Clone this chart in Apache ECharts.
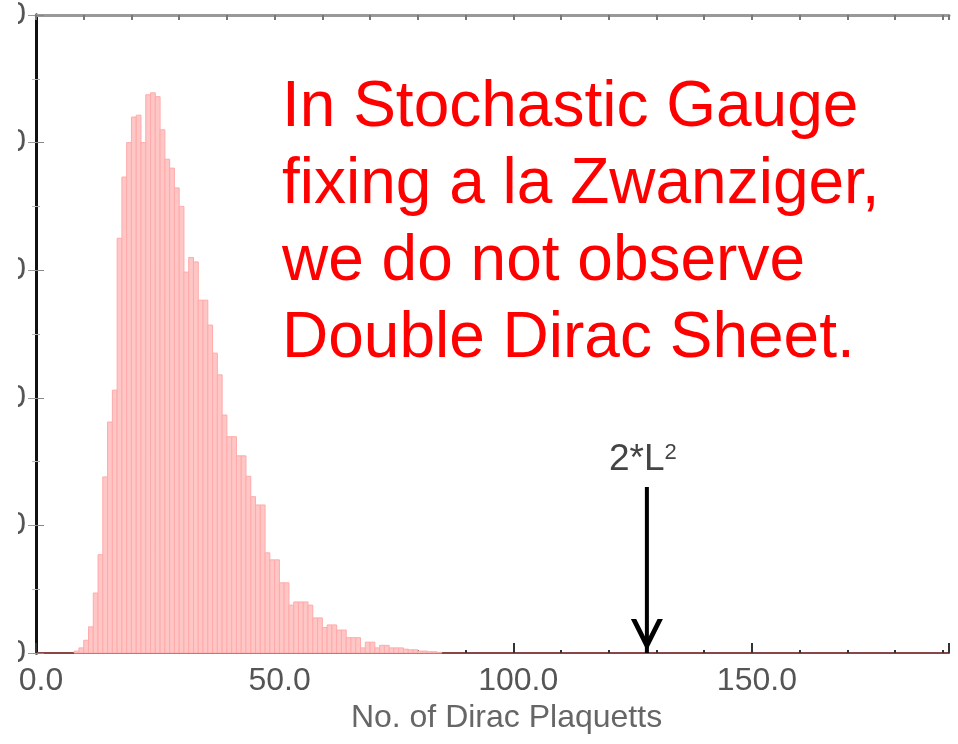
<!DOCTYPE html>
<html>
<head>
<meta charset="utf-8">
<style>
  html, body { margin: 0; padding: 0; background: #ffffff; }
  #chart { width: 958px; height: 744px; }
</style>
<script src="https://cdn.jsdelivr.net/npm/echarts@6/dist/echarts.min.js"></script>
</head>
<body>
<div id="chart"></div>
<script>
// Histogram of the number of Dirac plaquettes per configuration (unit-width bins)
const BIN_START = 8;
const BIN_WIDTH = 1;
const COUNTS = [
  3, 8, 20, 41, 94, 154, 276, 362, 412, 650,
  746, 800, 840, 843, 800, 875, 878, 872, 820, 774,
  760, 729, 700, 597, 620, 613, 553, 553, 514, 470,
  436, 373, 339, 339, 309, 309, 277, 245, 232, 232,
  157, 146, 146, 110, 110, 75, 80, 80, 80, 75,
  55, 55, 40, 44, 44, 36, 36, 24, 24, 24,
  8, 17, 17, 8, 12, 12, 8, 8, 8, 6,
  5, 5, 3, 3, 2, 2, 1
];

// Axis ranges
const X_MIN = 0;
const X_MAX = 191.3;
const X_TICK_STEP = 10;
const X_LABEL_STEP = 50;
const Y_MIN = 0;
const Y_MAX = 1000;
const Y_STEP = 200;

// Arrow marking 2*L^2 for L = 8
const L_SIZE = 8;
const ARROW_X = 2 * L_SIZE * L_SIZE;
const ARROW_TOP = 260;

const NOTE_LINES = [
  'In Stochastic Gauge',
  'fixing a la Zwanziger,',
  'we do not observe',
  'Double Dirac Sheet.'
];
const X_NAME = 'No. of Dirac Plaquetts';

const FONT = '"Liberation Sans", Arial, Helvetica, sans-serif';
const chevron = 'path://M0,0 L5,0 L15,20 L25,0 L30,0 L15,30 Z';

const chart = echarts.init(document.getElementById('chart'), null, { renderer: 'canvas' });

const histData = COUNTS.map((c, i) => [BIN_START + i * BIN_WIDTH, c]);

const xCommon = { type: 'value', min: X_MIN, max: X_MAX, splitLine: { show: false } };
const yCommon = { type: 'value', min: Y_MIN, max: Y_MAX, interval: Y_STEP, splitLine: { show: false } };

const option = {
  backgroundColor: '#ffffff',
  animation: false,
  grid: { left: 36, right: 9, top: 15, bottom: 91, containLabel: false, outerBoundsMode: 'none' },
  xAxis: [
    Object.assign({}, xCommon, {
      position: 'bottom',
      interval: X_TICK_STEP,
      axisLine: { show: true, lineStyle: { color: '#8a4646', width: 2 } },
      axisTick: { show: true, inside: true, length: 3, lineStyle: { color: '#333', width: 2 } },
      axisLabel: {
        show: true, interval: 0, margin: 12,
        fontFamily: FONT, fontSize: 32, color: '#555',
        padding: [0, 0, 0, 10],
        formatter: v => (Math.abs(v % X_LABEL_STEP) < 1e-9 ? v.toFixed(1) : '')
      },
      name: X_NAME,
      nameLocation: 'middle',
      nameGap: 48,
      nameTextStyle: { fontFamily: FONT, fontSize: 32, color: '#666', padding: [0, 0, 0, 28] }
    }),
    Object.assign({}, xCommon, {
      position: 'bottom',
      interval: X_LABEL_STEP,
      axisLine: { show: false },
      axisTick: { show: true, inside: true, length: 10, lineStyle: { color: '#333', width: 2 } },
      axisLabel: { show: false }
    }),
    Object.assign({}, xCommon, {
      position: 'top',
      interval: X_TICK_STEP,
      axisLine: { show: true, lineStyle: { color: '#999', width: 3 } },
      axisTick: { show: true, inside: true, length: 5, lineStyle: { color: '#777', width: 2 } },
      axisLabel: { show: false }
    })
  ],
  yAxis: [
    Object.assign({}, yCommon, {
      position: 'left',
      axisLine: { show: true, lineStyle: { color: '#222', width: 3 } },
      axisTick: { show: true, inside: true, length: 8, lineStyle: { color: '#888', width: 1 } },
      minorTick: { show: true, splitNumber: 2, length: 4, lineStyle: { color: '#aaa' } },
      axisLabel: {
        show: true, margin: 10, fontFamily: FONT, fontSize: 32, color: '#555',
        formatter: v => String(v)
      }
    }),
    Object.assign({}, yCommon, {
      position: 'right',
      axisLine: { show: true, lineStyle: { color: '#111', width: 3 } },
      axisTick: { show: true, inside: true, length: 8, lineStyle: { color: '#999', width: 1 } },
      minorTick: { show: true, splitNumber: 2, length: 4, lineStyle: { color: '#bbb' } },
      axisLabel: { show: false }
    })
  ],
  series: [
    {
      name: 'histogram',
      type: 'custom',
      xAxisIndex: 0,
      yAxisIndex: 0,
      data: histData,
      encode: { x: 0, y: 1 },
      z: 2,
      renderItem: function (params, api) {
        const x0 = api.value(0);
        const h = api.value(1);
        const pTop = api.coord([x0, h]);
        const pBase = api.coord([x0 + BIN_WIDTH, 0]);
        return {
          type: 'rect',
          shape: { x: pTop[0], y: pTop[1], width: pBase[0] - pTop[0], height: pBase[1] - pTop[1] },
          style: { fill: '#ffc6c6', stroke: '#ffaaaa', lineWidth: 1 }
        };
      }
    },
    {
      name: 'arrow',
      type: 'line',
      xAxisIndex: 0,
      yAxisIndex: 0,
      data: [[ARROW_X, ARROW_TOP], [ARROW_X, 0]],
      symbol: 'none',
      z: 5,
      lineStyle: { color: '#000', width: 4 },
      markPoint: {
        silent: true,
        data: [
          {
            coord: [ARROW_X, 0],
            symbol: chevron,
            symbolSize: [32, 32],
            symbolOffset: [0, -18],
            itemStyle: { color: '#000' },
            label: { show: false }
          },
          {
            coord: [ARROW_X, ARROW_TOP],
            symbol: 'rect',
            symbolSize: 1,
            itemStyle: { color: 'rgba(0,0,0,0)' },
            label: {
              show: true,
              position: 'top',
              distance: 8,
              offset: [-4, 0],
              formatter: '{b|2*L}{s|2}',
              rich: {
                b: { fontFamily: FONT, fontSize: 37, color: '#444' },
                s: { fontFamily: FONT, fontSize: 22, color: '#444', verticalAlign: 'top' }
              }
            }
          }
        ]
      }
    }
  ],
  graphic: [
    {
      type: 'text',
      left: 282,
      top: 70,
      z: 10,
      style: {
        text: NOTE_LINES.join('\n'),
        fontFamily: FONT,
        fontSize: 64,
        lineHeight: 77,
        fill: '#ff0000'
      }
    },
    {
      type: 'rect',
      left: 0,
      top: 0,
      z: 100,
      shape: { width: 18, height: 744 },
      style: { fill: '#ffffff' }
    }
  ]
};

chart.setOption(option);
</script>
</body>
</html>
